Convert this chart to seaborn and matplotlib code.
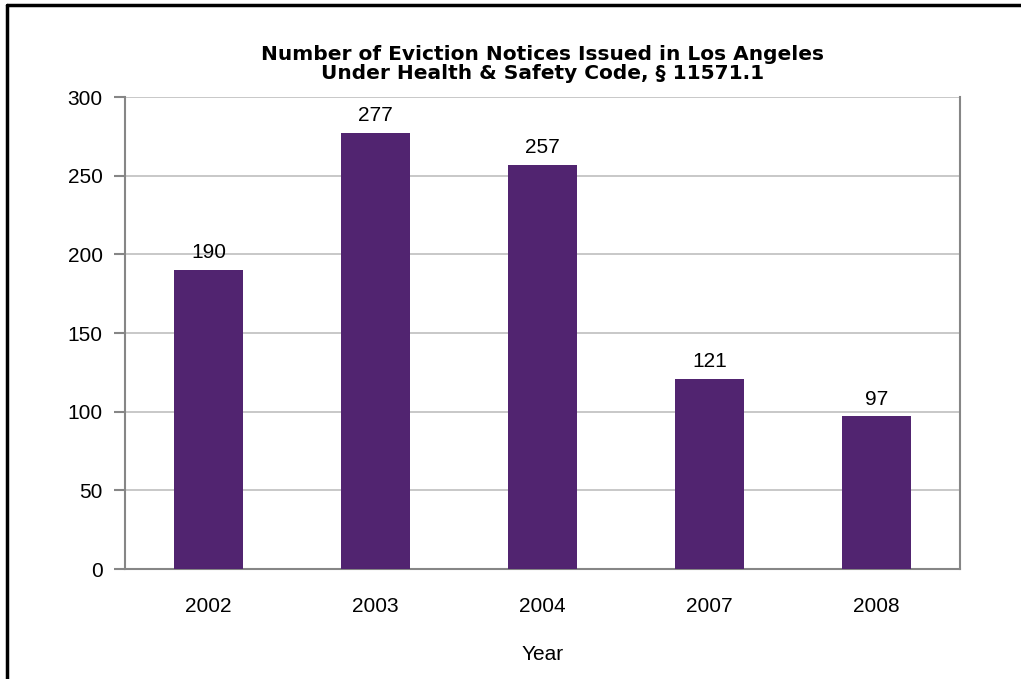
import numpy as np
import pandas as pd
import matplotlib
matplotlib.use("Agg")
import matplotlib.pyplot as plt
import seaborn as sns

# data
years = ["2002", "2003", "2004", "2007", "2008"]
notices = [190, 277, 257, 121, 97]

df = pd.DataFrame({"Year": years, "Notices": notices})

sns.set_style("white")
plt.rcParams["font.family"] = ["Liberation Sans", "DejaVu Sans"]
plt.rcParams["text.color"] = "black"
plt.rcParams["xtick.labelcolor"] = "black"
plt.rcParams["ytick.labelcolor"] = "black"
plt.rcParams["axes.labelcolor"] = "black"

fig = plt.figure(figsize=(10.21, 6.79), dpi=100)
ax = fig.add_axes([0.1224, 0.162, 0.818, 0.695])

sns.barplot(data=df, x="Year", y="Notices", color="#512470", saturation=1,
            width=0.41, ax=ax, zorder=3, linewidth=0)

ax.set_ylim(0, 300)
ax.set_xlim(-0.5, len(years) - 0.5)
ax.set_yticks(np.arange(0, 301, 50))
ax.yaxis.grid(True, color="#c4c4c4", linewidth=1.3, zorder=0)
ax.set_axisbelow(True)

# ticks sit between the categories
ax.set_xticks(np.arange(-0.5, len(years)), minor=True)
ax.tick_params(axis="x", which="major", length=0, labelsize=15, pad=20)
ax.tick_params(axis="x", which="minor", length=8, width=1.5, color="#868686", direction="out")
ax.tick_params(axis="y", length=8, width=1.5, color="#868686", direction="out", labelsize=15, pad=8)
ax.tick_params(axis="both", bottom=True, left=True)

for side in ["left", "bottom", "right"]:
    ax.spines[side].set_color("#868686")
    ax.spines[side].set_linewidth(1.5)
ax.spines["top"].set_visible(False)

for i, v in enumerate(notices):
    ax.text(i, v + 5, str(v), ha="center", va="bottom", fontsize=15)

ax.set_xlabel("Year", fontsize=15, labelpad=21)
ax.set_ylabel("")
ax.set_title("Number of Eviction Notices Issued in Los Angeles\nUnder Health & Safety Code, § 11571.1",
             fontsize=14.5, fontweight="bold", family=["DejaVu Sans"], linespacing=1.0, pad=13)

# outer frame (only top and left edges show in the original)
fig.add_artist(plt.Line2D([0.0068, 0.0068], [0, 0.993], color="black", linewidth=2.5,
                          transform=fig.transFigure))
fig.add_artist(plt.Line2D([0.0068, 1.0], [0.993, 0.993], color="black", linewidth=2.5,
                          transform=fig.transFigure))

fig.savefig("out.png", dpi=100)
